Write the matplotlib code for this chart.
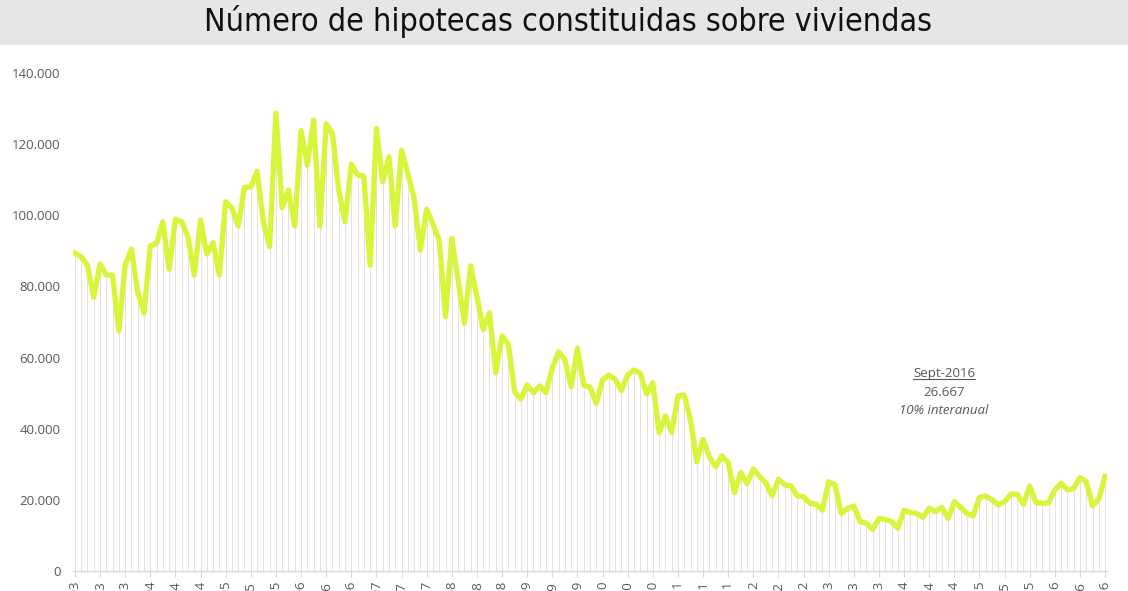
import matplotlib
matplotlib.use("Agg")
import matplotlib.pyplot as plt
from matplotlib.lines import Line2D
from matplotlib.patches import Rectangle

# ---- data (monthly, Jan-2003 .. Sep-2016) ----
values = [
    89400, 88300, 86000, 77000, 86300, 83200, 83200, 67500, 86000, 90500, 78400, 72500,   # 2003
    91400, 92100, 98200, 84800, 98900, 98200, 94000, 83200, 98700, 89100, 92300, 83200,   # 2004
    103800, 102000, 97000, 107900, 107900, 112400, 98200, 91200, 128700, 102100, 107100, 97000,  # 2005
    123800, 114100, 126800, 97000, 125700, 123000, 107100, 98200, 114400, 111300, 111000, 86000,  # 2006
    124400, 109400, 116500, 97000, 118300, 111800, 104800, 90200, 101700, 97500, 93000, 71500,   # 2007
    93500, 81800, 69600, 85800, 77100, 67900, 72600, 55700, 66100, 63700, 50400, 48300,   # 2008
    52300, 50100, 52000, 50100, 57000, 61600, 59300, 51800, 62600, 52300, 51700, 47100,   # 2009
    53700, 55100, 53900, 50700, 55100, 56500, 55600, 49800, 52900, 38900, 43600, 38900,   # 2010
    49200, 49500, 42400, 30700, 37000, 32100, 29300, 32400, 30400, 22000, 27700, 24500,   # 2011
    28700, 26500, 24800, 21100, 25800, 24200, 23900, 21100, 20900, 19000, 18800, 17100,   # 2012
    25100, 24200, 16200, 17600, 18300, 13900, 13400, 11700, 14800, 14500, 13900, 12000,   # 2013
    17100, 16400, 16200, 15100, 17600, 16700, 17900, 14800, 19500, 17900, 16200, 15500,   # 2014
    20700, 21100, 20000, 18600, 19500, 21600, 21600, 18800, 23900, 19200, 19000, 19200,   # 2015
    22800, 24700, 22800, 23200, 26300, 25100, 18300, 20200, 26667,                        # 2016
]
years = list(range(2003, 2017))
month_names = ["ene", "feb", "mar", "abr", "may", "jun", "jul", "ago", "sep", "oct", "nov", "dic"]
title = "Número de hipotecas constituidas sobre viviendas"
note_lines = ["Sept-2016", "26.667", "10% interanual"]
yticks = [0, 20000, 40000, 60000, 80000, 100000, 120000, 140000]

labels = []
for y in years:
    for m in month_names:
        labels.append(f"{m}-{str(y)[2:]}")
labels = labels[:len(values)]
x = list(range(len(values)))

W, H = 1128, 591
fig = plt.figure(figsize=(W / 100, H / 100), dpi=100)
fig.patch.set_facecolor("white")

# title band
fig.add_artist(Rectangle((0, 1 - 45 / H), 1, 45 / H, transform=fig.transFigure,
                         facecolor="#e6e6e6", edgecolor="none", zorder=0))
fig.text(568 / W, 1 - 21 / H, title, ha="center", va="center",
         fontsize=23, color="#111111", family="DejaVu Sans", fontstretch="condensed")

left, right = 73, 1107
bottom, top = 571, 73
ax = fig.add_axes([left / W, 1 - bottom / H, (right - left) / W, (bottom - top) / H])
ax.set_facecolor("none")

ax.vlines(x, 0, values, colors="#e2e2e2", lw=0.7, zorder=1)
ax.plot(x, values, color="#d8f53c", lw=3.8, solid_joinstyle="round", zorder=3)

ax.set_xlim(-0.3, len(values) - 1 + 0.3)
ax.set_ylim(0, 140000)
ax.set_yticks(yticks)
ax.set_yticklabels([f"{v:,}".replace(",", ".") for v in yticks],
                   fontsize=9.5, color="#595959", family="Open Sans")
tick_pos = x[::4]
ax.set_xticks(tick_pos)
ax.set_xticklabels([labels[i] for i in tick_pos], rotation=90, fontsize=9.5,
                   color="#595959", family="Open Sans", va="top")
ax.tick_params(axis="y", length=0, pad=9)
ax.tick_params(axis="x", length=4, color="#d9d9d9", pad=3)
for s in ["top", "right", "left"]:
    ax.spines[s].set_visible(False)
ax.spines["bottom"].set_color("#d9d9d9")
ax.spines["bottom"].set_linewidth(1)

# annotation
tx = 944 / W
t1 = fig.text(tx, 1 - 373 / H, note_lines[0], ha="center", va="center",
              fontsize=9.5, color="#595959", family="Open Sans")
fig.text(tx, 1 - 392 / H, note_lines[1], ha="center", va="center",
         fontsize=9.5, color="#595959", family="Open Sans")
fig.text(tx, 1 - 411 / H, note_lines[2], ha="center", va="center",
         fontsize=9.5, color="#595959", family="Open Sans", style="italic")

fig.canvas.draw()
bb = t1.get_window_extent().transformed(fig.transFigure.inverted())
fig.add_artist(Line2D([bb.x0, bb.x1], [bb.y0 + 1 / H, bb.y0 + 1 / H],
                      transform=fig.transFigure, color="#595959", lw=0.8))

fig.savefig("out.png", dpi=100)
